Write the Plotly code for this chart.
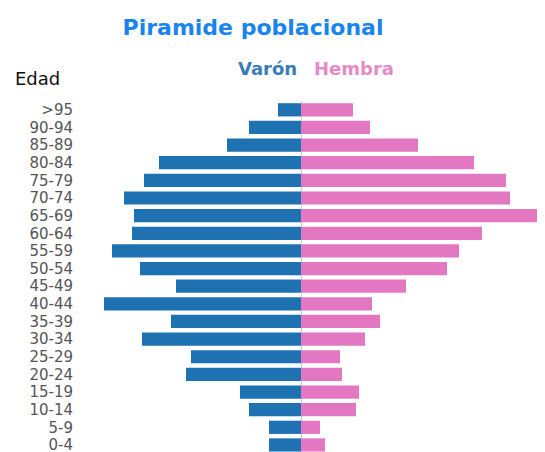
import plotly.graph_objects as go

age_groups = ["0-4", "5-9", "10-14", "15-19", "20-24", "25-29", "30-34", "35-39",
              "40-44", "45-49", "50-54", "55-59", "60-64", "65-69", "70-74", "75-79",
              "80-84", "85-89", "90-94", ">95"]
male = [32, 32, 52, 61, 115, 110, 159, 130, 197, 125, 161, 189, 169, 167, 177, 157, 142, 74, 52, 23]
female = [24, 19, 55, 58, 41, 39, 64, 79, 71, 105, 146, 158, 181, 236, 209, 205, 173, 117, 69, 52]

male_color = "#1f72b2"
female_color = "#e377c2"

W, H = 545, 452
OFF = 8  # page body margin offset
L, R, T, B = 80 - OFF, 13, 101 - OFF, OFF
pw, ph = W - L - R, H - T - B

def px(x):
    return (x - OFF - L) / pw

def py(y):
    return (H - B - (y - OFF)) / ph

fig = go.Figure()
fig.add_trace(go.Bar(
    y=age_groups, x=[-v for v in male], orientation="h", name="Varón",
    marker=dict(color=male_color, line=dict(width=0)),
    customdata=male, hovertemplate="%{y}: %{customdata}<extra>Varón</extra>",
))
fig.add_trace(go.Bar(
    y=age_groups, x=female, orientation="h", name="Hembra",
    marker=dict(color=female_color, line=dict(width=0)),
    hovertemplate="%{y}: %{x}<extra>Hembra</extra>",
))

fig.update_layout(
    width=W, height=H,
    margin=dict(l=L, r=R, t=T, b=B, pad=0, autoexpand=False),
    paper_bgcolor="white", plot_bgcolor="white",
    barmode="relative", bargap=0.25,
    showlegend=False,
    font=dict(family="DejaVu Sans"),
    title=dict(text="<b>Piramide poblacional</b>", x=(253 - OFF) / W, xanchor="center",
               xref="container", yref="container", y=1 - (27 - OFF) / H, yanchor="middle",
               automargin=False,
               font=dict(family="DejaVu Sans", size=22, color="#1a84ee")),
    xaxis=dict(range=[-221, 239], showticklabels=False, showgrid=False,
               zeroline=True, zerolinecolor="#cccccc", zerolinewidth=1,
               showline=False, fixedrange=True, automargin=False),
    yaxis=dict(type="category", categoryorder="array", categoryarray=age_groups,
               tickmode="array", tickvals=age_groups, ticktext=age_groups,
               range=[-0.4, 19.5], showgrid=False, zeroline=False, showline=False,
               ticks="", ticklabelstandoff=6, automargin=False,
               tickfont=dict(family="DejaVu Sans", size=15, color="#555555")),
    annotations=[
        dict(text="<b>Varón</b>", x=px(267.5), y=py(68.5), xref="paper", yref="paper",
             xanchor="center", yanchor="middle", showarrow=False,
             font=dict(family="DejaVu Sans", size=18, color="#3a7db5")),
        dict(text="<b>Hembra</b>", x=px(353.5), y=py(68.5), xref="paper", yref="paper",
             xanchor="center", yanchor="middle", showarrow=False,
             font=dict(family="DejaVu Sans", size=18, color="#e68ac6")),
        dict(text="Edad", x=px(37.5), y=py(78), xref="paper", yref="paper",
             xanchor="center", yanchor="middle", showarrow=False,
             font=dict(family="DejaVu Sans", size=18, color="#111111")),
    ],
)

fig.write_html("out.html")
